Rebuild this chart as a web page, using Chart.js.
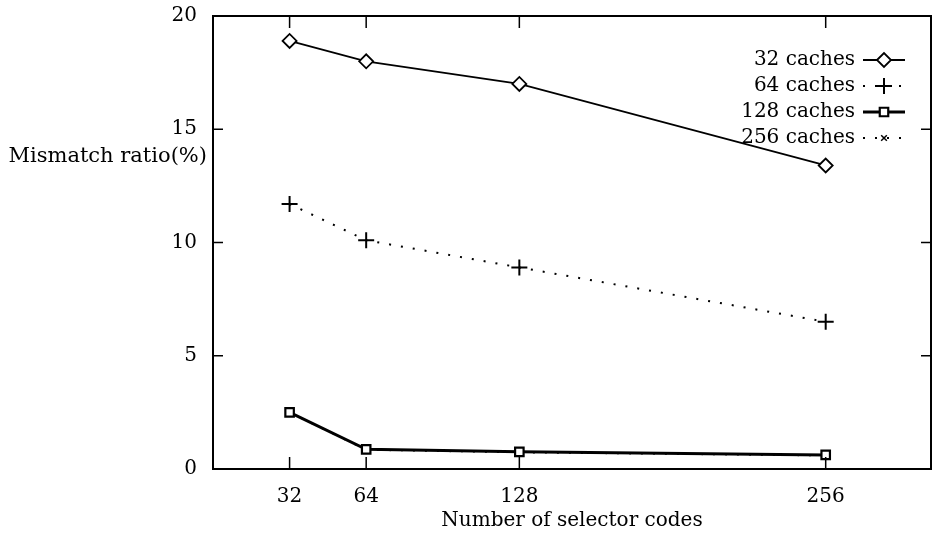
<!DOCTYPE html>
<html>
<head>
<meta charset="utf-8">
<script src="https://cdn.jsdelivr.net/npm/chart.js@4.4.1/dist/chart.umd.min.js"></script>
<style>
  html, body { margin: 0; padding: 0; background: #fff; }
  #wrap { width: 936px; height: 540px; }
</style>
</head>
<body>
<div id="wrap"><canvas id="myChart" width="936" height="540"></canvas></div>
<script>
// data
const selectorCodes = [32, 64, 128, 256]
const caches32 = [18.9, 18.0, 17.0, 13.4]
const caches64 = [11.7, 10.1, 8.9, 6.5]
const caches128 = [2.5, 0.87, 0.76, 0.62]
const caches256 = [2.5, 0.85, 0.74, 0.6]
const seriesLabels = ['32 caches', '64 caches', '128 caches', '256 caches']
const yTicks = [0, 5, 10, 15, 20]

const FONT = '"DejaVu Serif", "Liberation Serif", serif'
const FSIZE = 20

const toPoints = (ys) => selectorCodes.map((x, i) => ({ x: x, y: ys[i] }))

// frame, inward ticks, y title and a gnuplot style legend
const framePlugin = {
    id: 'frame',
    afterDatasetsDraw(chart) {
        const c = chart.ctx
        const a = chart.chartArea
        const xs = chart.scales.x
        const ys = chart.scales.y
        c.save()
        c.strokeStyle = '#000'
        c.lineWidth = 2
        c.strokeRect(a.left, a.top, a.right - a.left, a.bottom - a.top)

        c.lineWidth = 1.5
        c.beginPath()
        yTicks.forEach((v) => {
            let py = ys.getPixelForValue(v)
            c.moveTo(a.left, py); c.lineTo(a.left + 10, py)
            c.moveTo(a.right, py); c.lineTo(a.right - 10, py)
        })
        selectorCodes.forEach((v) => {
            let px = xs.getPixelForValue(v)
            c.moveTo(px, a.bottom); c.lineTo(px, a.bottom - 12)
            c.moveTo(px, a.top); c.lineTo(px, a.top + 12)
        })
        c.stroke()

        c.fillStyle = '#000'
        c.font = '21px ' + FONT
        c.textAlign = 'right'
        c.textBaseline = 'middle'
        c.fillText('Mismatch ratio(%)', a.left - 6, 157)

        // legend
        c.font = FSIZE + 'px ' + FONT
        chart.data.datasets.forEach((ds, i) => {
            let y = 60 + i * 26
            c.fillStyle = '#000'
            c.fillText(ds.label, 855, y)
            c.save()
            c.strokeStyle = '#000'
            c.lineWidth = ds.borderWidth
            c.setLineDash(ds.borderDash || [])
            c.beginPath()
            c.moveTo(863, y); c.lineTo(905, y)
            c.stroke()
            c.restore()
            c.save()
            c.fillStyle = '#fff'
            c.strokeStyle = '#000'
            c.lineWidth = ds.pointBorderWidth
            Chart.helpers.drawPoint(c, {
                pointStyle: ds.pointStyle,
                radius: ds.pointRadius,
                borderWidth: ds.pointBorderWidth
            }, 884, y)
            c.restore()
        })
        c.restore()
    }
}

const ctx = document.getElementById('myChart').getContext('2d')

let myChart = new Chart(ctx, {
    type: 'scatter',
    data: {
        datasets: [{
            label: seriesLabels[0],
            data: toPoints(caches32),
            showLine: true,
            borderColor: '#000',
            borderWidth: 1.8,
            pointStyle: 'rectRot',
            pointRadius: 7,
            pointBorderWidth: 1.8,
            pointBackgroundColor: '#fff',
            pointBorderColor: '#000'
        }, {
            label: seriesLabels[1],
            data: toPoints(caches64),
            showLine: true,
            borderColor: '#000',
            borderWidth: 2,
            borderDash: [2, 10],
            pointStyle: 'cross',
            pointRadius: 8,
            pointBorderWidth: 2,
            pointBackgroundColor: '#fff',
            pointBorderColor: '#000'
        }, {
            label: seriesLabels[2],
            data: toPoints(caches128),
            showLine: true,
            borderColor: '#000',
            borderWidth: 3,
            pointStyle: 'rect',
            pointRadius: 6,
            pointBorderWidth: 2.2,
            pointBackgroundColor: '#fff',
            pointBorderColor: '#000'
        }, {
            label: seriesLabels[3],
            data: toPoints(caches256),
            showLine: true,
            borderColor: '#000',
            borderWidth: 2,
            borderDash: [2, 10],
            pointStyle: 'crossRot',
            pointRadius: 4,
            pointBorderWidth: 1.5,
            pointBackgroundColor: '#fff',
            pointBorderColor: '#000'
        }]
    },
    options: {
        responsive: false,
        animation: false,
        layout: { autoPadding: false, padding: { left: 0, top: 16, right: 5, bottom: 0 } },
        plugins: {
            legend: { display: false },
            tooltip: { enabled: false }
        },
        scales: {
            x: {
                type: 'linear',
                min: 0,
                max: 300,
                afterBuildTicks: (scale) => {
                    scale.ticks = selectorCodes.map((v) => ({ value: v }))
                },
                afterFit: (scale) => {
                    scale.height = 71
                    scale.paddingLeft = 0
                    scale.paddingRight = 0
                },
                grid: { display: false, drawTicks: false },
                border: { display: false },
                ticks: {
                    color: '#000',
                    padding: 16,
                    font: { family: FONT, size: FSIZE }
                },
                title: {
                    display: true,
                    text: 'Number of selector codes',
                    color: '#000',
                    padding: { top: 0, bottom: 7 },
                    font: { family: FONT, size: FSIZE }
                }
            },
            y: {
                min: 0,
                max: 20,
                afterBuildTicks: (scale) => {
                    scale.ticks = yTicks.map((v) => ({ value: v }))
                },
                afterFit: (scale) => {
                    scale.width = 213
                    scale.paddingTop = 0
                    scale.paddingBottom = 0
                },
                grid: { display: false, drawTicks: false },
                border: { display: false },
                ticks: {
                    color: '#000',
                    padding: 16,
                    font: { family: FONT, size: FSIZE }
                }
            }
        }
    },
    plugins: [framePlugin]
})
</script>
</body>
</html>
